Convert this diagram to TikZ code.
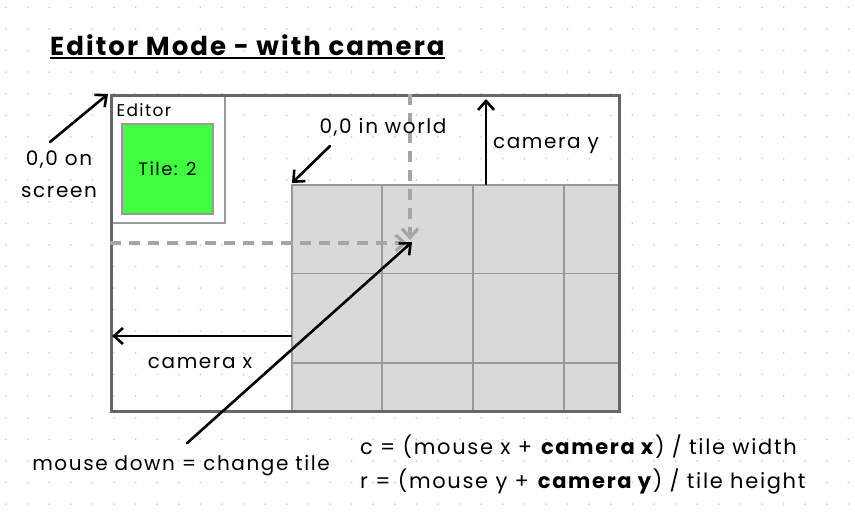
\documentclass[tikz,border=0pt]{standalone}
\usepackage{fontspec}
\setmainfont{Poppins}[LetterSpace=8]
\usetikzlibrary{arrows.meta}
\usetikzlibrary{calc}
\definecolor{framegray}{HTML}{666666}
\definecolor{edgegray}{HTML}{999999}
\definecolor{guidegray}{HTML}{A5A5A5}
\definecolor{tilegray}{HTML}{D9D9D9}
\definecolor{tilegreen}{HTML}{40FF40}
\definecolor{dotgray}{HTML}{CFCFCF}

\begin{document}
\begin{tikzpicture}[x=1pt, y=-1pt, font=\fontsize{20}{22}\selectfont,
    arr/.style={line width=2.6pt, line cap=round, -{Straight Barb[length=9pt,width=16pt]}},
    guide/.style={guidegray, line width=3.2pt, dash pattern=on 11pt off 8pt, -{Straight Barb[length=9pt,width=16pt]}},
    box/.style={draw=edgegray, line width=1.8pt, fill=white, anchor=north west, inner sep=0}]
    \useasboundingbox (0,0) rectangle (855,517);
    \foreach \i in {0,...,39}
        \foreach \j in {0,...,23}
            \fill[dotgray] (6+21.6*\i, 7.3+21.6*\j) circle (1pt);

    \node[font=\fontsize{26}{30}\selectfont\bfseries, anchor=base west, inner xsep=0] (title) at (50,55) {Editor Mode - with camera};
    \draw[line width=2.4pt] (title.south west) ++(0,-1) coordinate (ul) -- (ul -| title.south east);

    \node[draw=framegray, line width=2.8pt, minimum width=508pt, minimum height=316pt, anchor=north west, inner sep=0] (screen) at (110,94) {};
    \node[box, minimum width=114pt, minimum height=128pt] (editor) at (110,94) {};
    \node[anchor=west, font=\fontsize{17}{18}\selectfont] (edlabel) at (113,110) {Editor};
    \node[box, fill=tilegreen, minimum width=91pt, minimum height=90pt] (tile) at (121,123) {};
    \node[font=\fontsize{18}{18}\selectfont] (tilelabel) at (tile.center) {Tile: 2};

    \node[box, fill=tilegray, minimum width=327pt, minimum height=226pt] (world) at (291,184) {};
    \foreach \gx in {91,182,273}
        \draw[edgegray, line width=1.8pt] ($(world.north west)+(\gx,0)$) -- ($(world.south west)+(\gx,0)$);
    \foreach \gy in {89.5,179}
        \draw[edgegray, line width=1.8pt] ($(world.north west)+(0,\gy)$) -- ($(world.north east)+(0,\gy)$);
    \node[draw=framegray, line width=2.8pt, minimum width=508pt, minimum height=316pt, anchor=north west, inner sep=0] at (110,94) {};

    \coordinate (mouse) at (410,243);
    \draw[guide] (screen.north -| mouse) -- ($(mouse)+(0,-3)$);
    \draw[guide] (screen.west |- mouse) -- ($(mouse)+(-3,0)$);

    \node (mdown) at (181,466) {mouse down = change tile};
    \draw[arr] ($(mdown.north)+(6,-9)$) -- (412,242);

    \node (camx) at (200,363) {camera x};
    \draw[arr] (world.west |- 0,336) -- ($(screen.west |- 0,336)+(2,0)$);

    \node (camy) at (546,145) {camera y};
    \draw[arr] (world.north -| 486,0) -- ($(screen.north -| 486,0)+(0,5)$);

    \node (worldlabel) at (383,127) {0,0 in world};
    \draw[arr] (330,146) -- ($(world.north west)+(1,-1)$);

    \node[align=center, font=\fontsize{20}{32}\selectfont] (scrlabel) at (59,174) {0,0 on\\screen};
    \draw[arr] (50,142) -- ($(screen.north west)+(-2,0)$);

    \node[anchor=west, inner xsep=0, font=\fontsize{21}{22}\selectfont] (colf) at (360,447) {c = (mouse x + \textbf{camera x}) / tile width};
    \node[anchor=west, inner xsep=0, font=\fontsize{21}{22}\selectfont] (rowf) at (360,481) {r = (mouse y + \textbf{camera y}) / tile height};
\end{tikzpicture}
\end{document}
